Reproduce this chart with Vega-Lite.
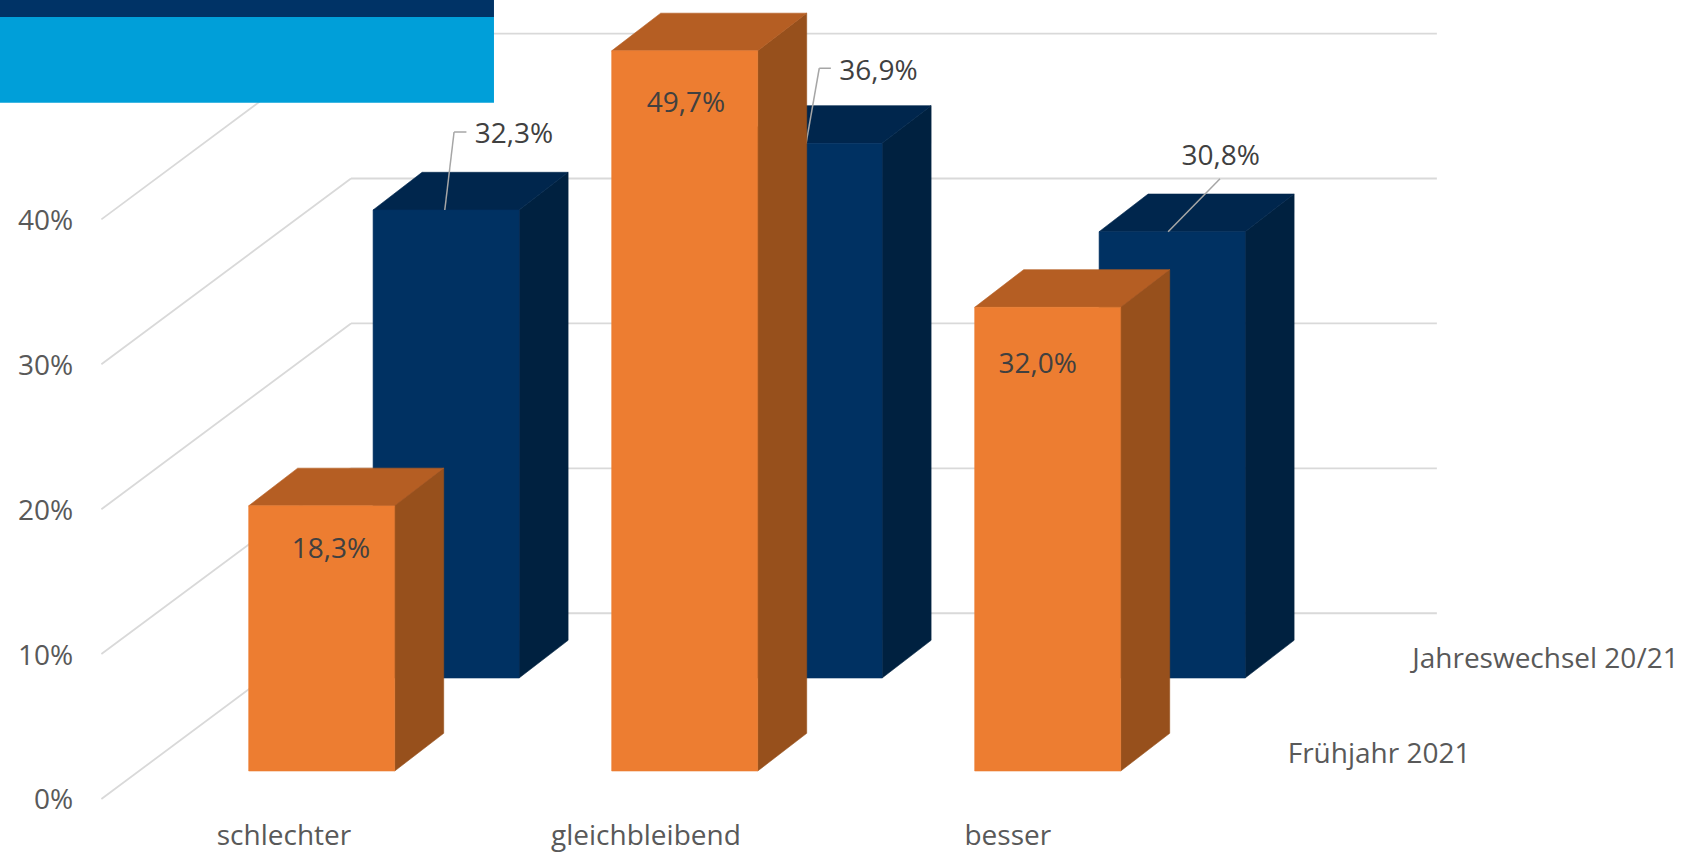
{"$schema":"https://vega.github.io/schema/vega-lite/v6.json","width":1686,"height":855,"padding":0,"autosize":{"type":"none"},"background":"#ffffff","config":{"view":{"stroke":null},"text":{"font":"Open Sans"}},
"datasets":{"levels":[{"level":0},{"level":10},{"level":20},{"level":30},{"level":40}],"banner":[{"part":"banner"}]},
"data":{"values":[
{"category":"schlechter","series":"Frühjahr 2021","value":18.3},
{"category":"gleichbleibend","series":"Frühjahr 2021","value":49.7},
{"category":"besser","series":"Frühjahr 2021","value":32.0},
{"category":"schlechter","series":"Jahreswechsel 20/21","value":32.3},
{"category":"gleichbleibend","series":"Jahreswechsel 20/21","value":36.9},
{"category":"besser","series":"Jahreswechsel 20/21","value":30.8}]},
"transform":[
{"calculate":"indexof(['schlechter','gleichbleibend','besser'],datum.category)","as":"i"},
{"calculate":"datum.series==='Frühjahr 2021'?0:1","as":"row"},
{"calculate":"0.4058+datum.i+datum.row*0.3427","as":"left"},
{"calculate":"datum.left+0.4022","as":"right"},
{"calculate":"datum.left+0.2011","as":"mid"},
{"calculate":"1.932+datum.row*6.418","as":"base"},
{"calculate":"datum.base+datum.value","as":"top"},
{"calculate":"[0,1]","as":"t"},
{"flatten":["t"]},
{"calculate":"datum.right+datum.t*0.135","as":"sideX"},
{"calculate":"datum.left+datum.t*0.135","as":"topX"},
{"calculate":"datum.right+datum.t*0.135","as":"topX2"},
{"calculate":"datum.base+datum.t*2.6","as":"sideLow"},
{"calculate":"datum.top+datum.t*2.6","as":"sideHigh"},
{"calculate":"replace(format(datum.value,'.1f'),'.',',')+'%'","as":"label"},
{"calculate":"datum.mid+[[0.0256,0.0036,-0.0275],[0.187,0.191,0.134]][datum.row][datum.i]","as":"labelX"},
{"calculate":"datum.top+[[-2.94,-3.52,-3.82],[5.31,5.04,5.31]][datum.row][datum.i]","as":"labelY"},
{"calculate":"datum.mid+[-0.0036,-0.0083,-0.011][datum.i]","as":"leadAX"},
{"calculate":"datum.mid+[0.022,0.028,0.132][datum.i]","as":"leadBX"},
{"calculate":"datum.mid+[0.056,0.06,0.132][datum.i]","as":"leadCX"},
{"calculate":"datum.top+[5.38,5.18,3.66][datum.i]","as":"leadY"}
],
"layer":[
{"data":{"name":"levels"},"transform":[{"calculate":"datum.level+12.82","as":"backLevel"}],"mark":{"type":"rule","color":"#D9D9D9","strokeWidth":1.8},"encoding":{
"x":{"datum":-0.0,"type":"quantitative","scale":{"domain":[-0.2793,4.3653],"nice":false,"zero":false},"axis":null},"x2":{"datum":0.6876},
"y":{"field":"level","type":"quantitative","scale":{"domain":[-3.865,55.14],"nice":false,"zero":false},"axis":{"values":[0,10,20,30,40],"title":null,"domain":false,"ticks":false,"grid":false,"labelPadding":-72.7,"labelOffset":2,"labelFont":"Open Sans","labelFontSize":28,"labelColor":"#595959","labelExpr":"datum.value+'%'","labelAlign":"right","labelBaseline":"middle"}},"y2":{"field":"backLevel"}}},
{"data":{"name":"levels"},"transform":[{"calculate":"datum.level+12.82","as":"backLevel"}],"mark":{"type":"rule","color":"#D9D9D9","strokeWidth":1.8},"encoding":{
"x":{"datum":0.6876,"type":"quantitative","scale":{"domain":[-0.2793,4.3653],"nice":false,"zero":false},"axis":null},"x2":{"datum":3.679},
"y":{"field":"backLevel","type":"quantitative","scale":{"domain":[-3.865,55.14],"nice":false,"zero":false}}}},
{"transform":[{"filter":"datum.row===1"}],"mark":{"type":"area","color":"#002140","stroke":"#002140","strokeWidth":0.6},"encoding":{"x":{"field":"sideX","type":"quantitative","scale":{"domain":[-0.2793,4.3653],"nice":false,"zero":false},"axis":null},"y":{"field":"sideHigh","type":"quantitative","stack":null,"scale":{"domain":[-3.865,55.14],"nice":false,"zero":false}},"y2":{"field":"sideLow"},"detail":{"field":"category"}}},
{"transform":[{"filter":"datum.row===1"}],"mark":{"type":"area","orient":"horizontal","color":"#00264D","stroke":"#00264D","strokeWidth":0.6},"encoding":{"y":{"field":"sideHigh","type":"quantitative","scale":{"domain":[-3.865,55.14],"nice":false,"zero":false}},"x":{"field":"topX","type":"quantitative","stack":null,"scale":{"domain":[-0.2793,4.3653],"nice":false,"zero":false},"axis":null},"x2":{"field":"topX2"},"detail":{"field":"category"}}},
{"transform":[{"filter":"datum.row===1 && datum.t===0"}],"mark":{"type":"rect","color":"#003162","stroke":"#003162","strokeWidth":0.6},"encoding":{"x":{"field":"left","type":"quantitative","scale":{"domain":[-0.2793,4.3653],"nice":false,"zero":false},"axis":null},"x2":{"field":"right"},"y":{"field":"top","type":"quantitative","scale":{"domain":[-3.865,55.14],"nice":false,"zero":false}},"y2":{"field":"base"}}},
{"transform":[{"filter":"datum.row===1 && datum.t===0"}],"mark":{"type":"rule","color":"#A6A6A6","strokeWidth":1.5},"encoding":{"x":{"field":"leadAX","type":"quantitative","scale":{"domain":[-0.2793,4.3653],"nice":false,"zero":false},"axis":null},"x2":{"field":"leadBX"},"y":{"field":"top","type":"quantitative","scale":{"domain":[-3.865,55.14],"nice":false,"zero":false}},"y2":{"field":"leadY"}}},
{"transform":[{"filter":"datum.row===1 && datum.t===0 && datum.i<2"}],"mark":{"type":"rule","color":"#A6A6A6","strokeWidth":1.5},"encoding":{"x":{"field":"leadBX","type":"quantitative","scale":{"domain":[-0.2793,4.3653],"nice":false,"zero":false},"axis":null},"x2":{"field":"leadCX"},"y":{"field":"leadY","type":"quantitative","scale":{"domain":[-3.865,55.14],"nice":false,"zero":false}}}},
{"transform":[{"filter":"datum.row===0"}],"mark":{"type":"area","color":"#97501C","stroke":"#97501C","strokeWidth":0.6},"encoding":{"x":{"field":"sideX","type":"quantitative","scale":{"domain":[-0.2793,4.3653],"nice":false,"zero":false},"axis":null},"y":{"field":"sideHigh","type":"quantitative","stack":null,"scale":{"domain":[-3.865,55.14],"nice":false,"zero":false}},"y2":{"field":"sideLow"},"detail":{"field":"category"}}},
{"transform":[{"filter":"datum.row===0"}],"mark":{"type":"area","orient":"horizontal","color":"#B55E23","stroke":"#B55E23","strokeWidth":0.6},"encoding":{"y":{"field":"sideHigh","type":"quantitative","scale":{"domain":[-3.865,55.14],"nice":false,"zero":false}},"x":{"field":"topX","type":"quantitative","stack":null,"scale":{"domain":[-0.2793,4.3653],"nice":false,"zero":false},"axis":null},"x2":{"field":"topX2"},"detail":{"field":"category"}}},
{"transform":[{"filter":"datum.row===0 && datum.t===0"}],"mark":{"type":"rect","color":"#ED7D31","stroke":"#ED7D31","strokeWidth":0.6},"encoding":{"x":{"field":"left","type":"quantitative","scale":{"domain":[-0.2793,4.3653],"nice":false,"zero":false},"axis":null},"x2":{"field":"right"},"y":{"field":"top","type":"quantitative","scale":{"domain":[-3.865,55.14],"nice":false,"zero":false}},"y2":{"field":"base"}}},
{"transform":[{"filter":"datum.t===0"}],"mark":{"type":"text","font":"Open Sans","fontSize":28,"dy":2,"color":"#404040","align":"center","baseline":"middle"},"encoding":{"x":{"field":"labelX","type":"quantitative","scale":{"domain":[-0.2793,4.3653],"nice":false,"zero":false},"axis":null},"y":{"field":"labelY","type":"quantitative","scale":{"domain":[-3.865,55.14],"nice":false,"zero":false}},"text":{"field":"label"}}},
{"transform":[{"filter":"datum.t===0 && datum.row===0"},{"calculate":"0.503+datum.i*0.997","as":"catX"},{"calculate":"-2.83","as":"catY"}],"mark":{"type":"text","font":"Open Sans","fontSize":28,"dy":-3,"color":"#595959","align":"center","baseline":"middle"},"encoding":{"x":{"field":"catX","type":"quantitative","scale":{"domain":[-0.2793,4.3653],"nice":false,"zero":false},"axis":null},"y":{"field":"catY","type":"quantitative","scale":{"domain":[-3.865,55.14],"nice":false,"zero":false}},"text":{"field":"category"}}},
{"transform":[{"filter":"datum.t===0 && datum.i===2"},{"calculate":"3.268+datum.row*0.343","as":"serX"},{"calculate":"3.19+datum.row*6.54","as":"serY"}],"mark":{"type":"text","font":"Open Sans","fontSize":28,"dy":2,"color":"#595959","align":"left","baseline":"middle"},"encoding":{"x":{"field":"serX","type":"quantitative","scale":{"domain":[-0.2793,4.3653],"nice":false,"zero":false},"axis":null},"y":{"field":"serY","type":"quantitative","scale":{"domain":[-3.865,55.14],"nice":false,"zero":false}},"text":{"field":"series"}}},
{"data":{"name":"banner"},"mark":{"type":"rect","color":"#009FD9"},"encoding":{"x":{"datum":-0.2793,"type":"quantitative","scale":{"domain":[-0.2793,4.3653],"nice":false,"zero":false},"axis":null},"x2":{"datum":1.0815},"y":{"datum":53.97,"type":"quantitative","scale":{"domain":[-3.865,55.14],"nice":false,"zero":false}},"y2":{"datum":48.05}}},
{"data":{"name":"banner"},"mark":{"type":"rect","color":"#003366"},"encoding":{"x":{"datum":-0.2793,"type":"quantitative","scale":{"domain":[-0.2793,4.3653],"nice":false,"zero":false},"axis":null},"x2":{"datum":1.0815},"y":{"datum":55.14,"type":"quantitative","scale":{"domain":[-3.865,55.14],"nice":false,"zero":false}},"y2":{"datum":53.97}}}
]}
